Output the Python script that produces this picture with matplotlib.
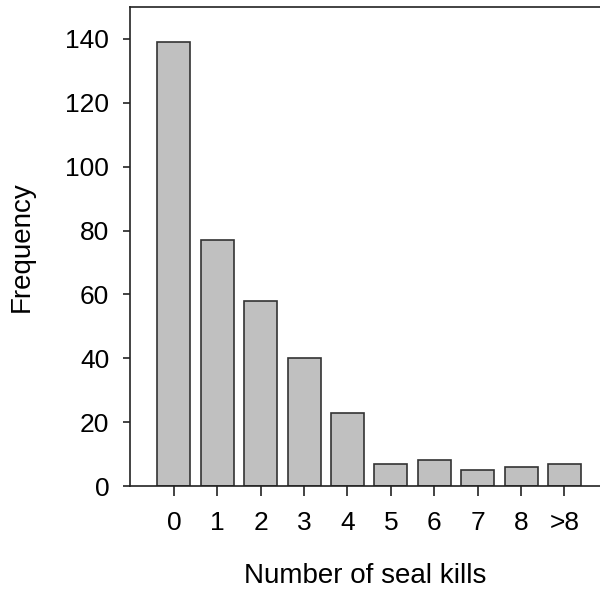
import matplotlib.pyplot as plt

# ---------- Data ----------
categories = ["0", "1", "2", "3", "4", "5", "6", "7", "8", ">8"]
frequency = [139, 77, 58, 40, 23, 7, 8, 5, 6, 7]

plt.rcParams['font.family'] = ['Liberation Sans', 'DejaVu Sans']

# ---------- Plot ----------
fig = plt.figure(figsize=(6.0, 5.98), dpi=100)
ax = fig.add_axes([130 / 600, 112 / 598, 470 / 600, 479 / 598])

x = list(range(len(categories)))
ax.bar(x, frequency, width=0.76, color='#c0c0c0', edgecolor='#333333', linewidth=1.2)

ax.set_xlim(-1.01, 9.82)
ax.set_ylim(0, 150)
ax.set_xticks(x)
ax.set_xticklabels(categories)
ax.set_yticks(range(0, 141, 20))

ax.spines['right'].set_visible(False)
for s in ['left', 'bottom', 'top']:
    ax.spines[s].set_linewidth(1.2)
    ax.spines[s].set_color('#222222')

ax.tick_params(axis='x', length=7, width=1.2, pad=11, labelsize=19, color='#222222')
ax.tick_params(axis='y', length=5, width=1.2, pad=10, labelsize=19, color='#222222')

ax.set_xlabel("Number of seal kills", fontsize=20, labelpad=20)
ax.set_ylabel("Frequency", fontsize=20, labelpad=22)

fig.savefig("out.png", dpi=100)
